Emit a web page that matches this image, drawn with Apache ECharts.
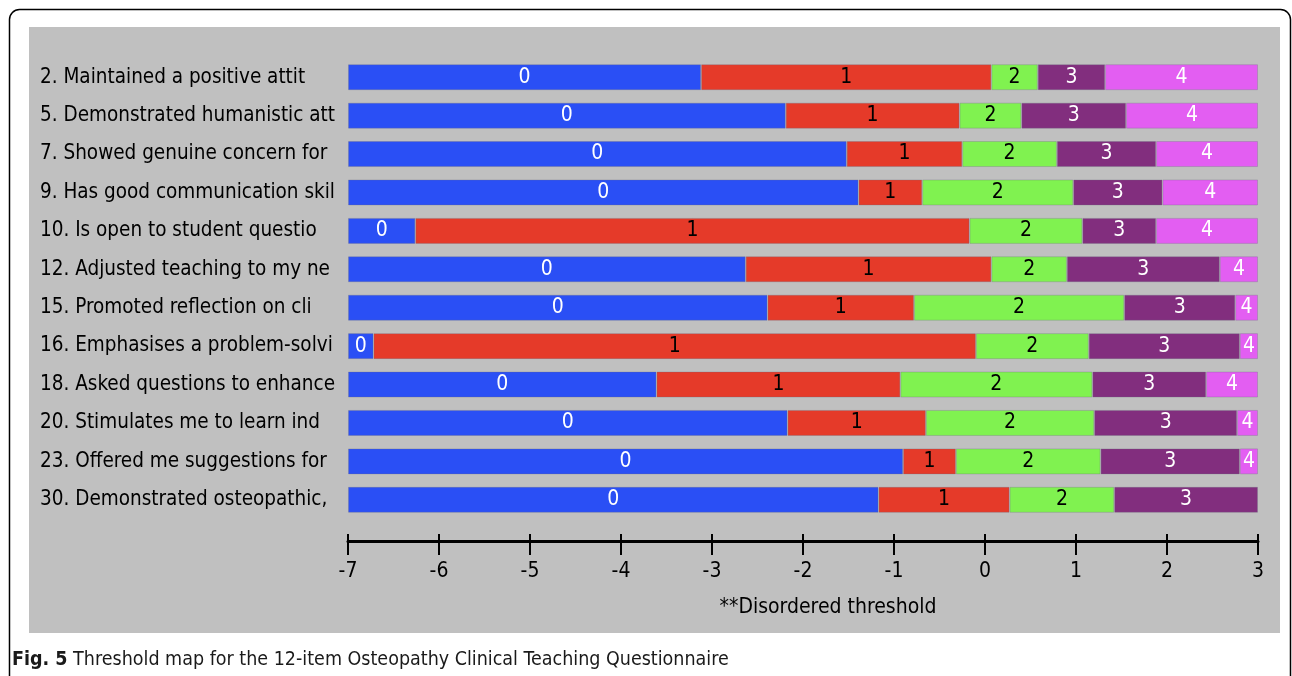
<!DOCTYPE html>
<html>
<head>
<meta charset="utf-8">
<script src="https://cdn.jsdelivr.net/npm/echarts@6/dist/echarts.min.js"></script>
<style>
html,body{margin:0;padding:0;background:#fff;}
#chart{width:1292px;height:676px;}
</style>
</head>
<body>
<div id="chart"></div>
<script>
// ---- data ----
const items = [
  "2. Maintained a positive attit",
  "5. Demonstrated humanistic att",
  "7. Showed genuine concern for",
  "9. Has good communication skil",
  "10. Is open to student questio",
  "12. Adjusted teaching to my ne",
  "15. Promoted reflection on cli",
  "16. Emphasises a problem-solvi",
  "18. Asked questions to enhance",
  "20. Stimulates me to learn ind",
  "23. Offered me suggestions for",
  "30. Demonstrated osteopathic,"
];
const threshold1 = [-3.12, -2.19, -1.52, -1.39, -6.26, -2.63, -2.39, -6.72, -3.61, -2.17, -0.90, -1.17];
const threshold2 = [0.07, -0.28, -0.25, -0.69, -0.17, 0.07, -0.78, -0.10, -0.93, -0.65, -0.32, 0.27];
const threshold3 = [0.58, 0.40, 0.79, 0.97, 1.07, 0.90, 1.53, 1.14, 1.18, 1.20, 1.27, 1.42];
const threshold4 = [1.32, 1.55, 1.88, 1.95, 1.88, 2.58, 2.75, 2.80, 2.43, 2.77, 2.80, null];
const scaleMin = -7;
const scaleMax = 3;
const xTicks = [-7, -6, -5, -4, -3, -2, -1, 0, 1, 2, 3];
const categoryNames = ["0", "1", "2", "3", "4"];

// ---- styles ----
const segColors = ["#2a4ff5", "#e53a29", "#80f250", "#822e7e", "#e35ef2"];
const segLabelColors = ["#fff", "#000", "#000", "#fff", "#fff"];
const FONT = "'Liberation Sans Narrow', 'DejaVu Sans Condensed', 'Liberation Sans', sans-serif";

// segments built from thresholds
const bounds = items.map((_, i) => {
  const b = [scaleMin, threshold1[i], threshold2[i], threshold3[i]];
  if (threshold4[i] != null) b.push(threshold4[i]);
  b.push(scaleMax);
  return b;
});
const segData = categoryNames.map((_, k) =>
  bounds.map(b => (k + 1 < b.length ? +(b[k + 1] - b[k]).toFixed(4) : null))
);

const chart = echarts.init(document.getElementById('chart'), null, {renderer: 'canvas'});

const series = [{
  type: 'bar',
  name: 'base',
  stack: 's',
  stackStrategy: 'all',
  silent: true,
  barWidth: 26,
  itemStyle: {color: 'transparent'},
  data: items.map(() => scaleMin)
}];
categoryNames.forEach((nm, k) => {
  series.push({
    type: 'bar',
    name: nm,
    stack: 's',
    stackStrategy: 'all',
    barWidth: 26,
    itemStyle: {color: segColors[k], borderColor: 'rgba(110,110,130,0.3)', borderWidth: 1},
    label: {
      show: true,
      position: 'inside',
      formatter: () => nm,
      color: segLabelColors[k],
      fontFamily: FONT,
      fontSize: 21,
      textBorderWidth: 0
    },
    data: segData[k]
  });
});

const option = {
  animation: false,
  backgroundColor: '#ffffff',
  graphic: [
    {type: 'rect', z: -20, shape: {x: 9.5, y: 9.5, width: 1281, height: 720, r: 10},
     style: {fill: '#ffffff', stroke: '#000', lineWidth: 1.5}},
    {type: 'rect', z: -19, shape: {x: 29, y: 27, width: 1251, height: 606},
     style: {fill: '#c0c0c0'}},
    {type: 'text', z: 10, left: 12, top: 650,
     style: {
       text: '{b|Fig. 5} Threshold map for the 12-item Osteopathy Clinical Teaching Questionnaire',
       fontFamily: FONT, fontSize: 19.5, fill: '#1a1a1a',
       rich: {b: {fontWeight: 'bold', fontFamily: FONT, fontSize: 19.5, fill: '#1a1a1a'}}
     }}
  ],
  grid: {left: 348, right: 34, top: 58, bottom: 157, containLabel: false},
  xAxis: [{
    type: 'value',
    min: scaleMin, max: scaleMax, interval: 1,
    position: 'bottom',
    offset: 22,
    splitLine: {show: false},
    axisLine: {show: true, lineStyle: {color: '#000', width: 3}},
    axisTick: {show: true, inside: false, length: 14, lineStyle: {color: '#000', width: 2}},
    axisLabel: {
      color: '#000', fontFamily: FONT, fontSize: 21, margin: 20,
      formatter: v => (xTicks.indexOf(v) >= 0 ? String(v) : '')
    },
    name: '**Disordered threshold',
    nameLocation: 'middle',
    nameGap: 56,
    nameTextStyle: {color: '#000', fontFamily: FONT, fontSize: 21, padding: [0, 0, 0, 50]}
  }, {
    type: 'value',
    min: scaleMin, max: scaleMax, interval: 1,
    position: 'bottom',
    offset: 22,
    splitLine: {show: false},
    axisLine: {show: false},
    axisTick: {show: true, inside: true, length: 7, lineStyle: {color: '#000', width: 2}},
    axisLabel: {show: false}
  }],
  yAxis: {
    type: 'category',
    data: items,
    inverse: true,
    axisLine: {show: false},
    axisTick: {show: false},
    splitLine: {show: false},
    axisLabel: {
      color: '#000', fontFamily: FONT, fontSize: 20.5,
      align: 'left', margin: 308
    }
  },
  series: series
};
chart.setOption(option);
</script>
</body>
</html>
